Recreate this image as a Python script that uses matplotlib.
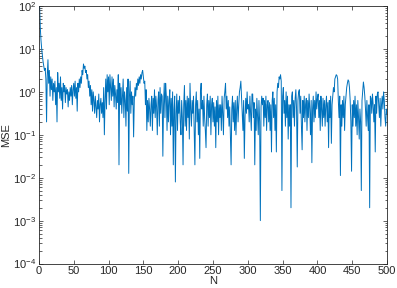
import matplotlib
matplotlib.use("Agg")
import matplotlib.pyplot as plt
import numpy as np

# log10(MSE), 10 points per row (N = 1..500)
mse_log = [
    2.0, 1.5, 1.2, 1.0, 0.85, 0.7, 0.6, 0.5, 0.55, 0.3,
    -0.7, 0.4, 0.75, 0.2, 0.5, -0.1, 0.35, 0.05, 0.3, -0.2,
    0.2, 0.0, 0.25, -0.3, 0.1, -0.7, 0.45, 0.0, 0.2, -0.15,
    0.35, -0.2, 0.1, -0.4, 0.2, 0.0, 0.15, -0.25, 0.1, -0.05,
    0.05, -0.35, 0.0, -0.2, 0.1, -0.1, 0.15, -0.3, 0.05, 0.2,
    -0.1, 0.25, -0.15, 0.1, -0.45, 0.2, 0.0, 0.3, 0.1, 0.35,
    0.2, 0.5, 0.4, 0.65, 0.55, 0.6, 0.45, 0.5, 0.3, 0.4,
    0.1, 0.25, -0.1, 0.15, -0.3, 0.05, -0.45, 0.0, -0.2, -0.5,
    -0.1, -0.35, -0.6, -0.2, -0.4, -0.05, -0.7, -0.3, -0.15, -0.5,
    -0.25, -0.6, 0.1, -1.0, -0.2, 0.3, -0.4, 0.4, 0.0, 0.35,
    -0.3, 0.4, 0.1, -0.2, 0.35, -0.1, 0.3, -0.35, 0.15, -0.05,
    -0.4, 0.05, -0.25, 0.4, -1.7, 0.2, -0.3, 0.1, -0.5, -0.1,
    0.3, -0.6, 0.0, -0.2, -0.8, 0.1, -0.45, 0.3, -1.9, -0.1,
    0.25, -0.5, 0.0, -0.3, -0.1, -1.05, -0.2, 0.1, -0.1, 0.2,
    0.05, 0.3, 0.15, 0.35, 0.2, 0.4, 0.3, 0.45, 0.5, 0.35,
    0.2, 0.25, -0.3, 0.05, -0.9, -0.2, -0.7, -0.15, -0.4, -0.8,
    -0.3, -0.1, -0.9, -0.15, -0.5, 0.05, -0.6, -0.1, -0.35, -1.0,
    -0.2, 0.0, -0.8, 0.1, -0.5, -0.05, -0.1, -1.5, -0.3, 0.2,
    -0.6, 0.2, -0.1, -0.9, -0.1, -0.7, -0.2, 0.05, -1.0, -0.15,
    -0.8, 0.0, -1.7, -0.4, -0.1, -2.1, -0.5, -0.05, -0.9, -0.2,
    -0.5, -0.1, -0.7, -1.0, -0.2, -0.6, -1.7, -0.3, 0.15, -0.8,
    -0.2, -0.9, -0.1, -0.6, -0.15, -1.1, 0.2, -0.4, -0.8, -0.2,
    -0.5, -0.1, -0.9, -1.7, -0.3, 0.0, -0.7, -0.2, -1.0, -0.4,
    -1.55, 0.0, 0.2, -0.4, -0.2, -0.8, -0.1, -0.6, -0.9, -1.3,
    -0.3, -0.05, -0.8, -0.2, -0.6, -0.1, -1.0, -0.3, -0.15, -0.7,
    -0.25, -0.8, -0.35, -1.3, -0.2, -0.7, -0.1, -1.0, -0.3, -0.6,
    -0.3, -0.9, -0.1, -0.5, -1.0, -0.15, 0.0, 0.2, -0.4, -0.1,
    -0.6, -0.2, -0.8, -0.35, -1.0, -1.7, -0.4, -0.1, -0.7, -0.25,
    -0.9, -0.2, -1.0, -0.4, -0.1, -0.7, -0.3, 0.0, 0.1, 0.25,
    -0.1, -0.5, -0.9, -0.2, -1.55, -0.6, -0.15, -0.5, 0.0, -0.4,
    -0.3, -0.7, -0.1, -0.5, -0.9, -0.05, -0.05, -0.6, -0.25, -1.7,
    -0.4, -0.9, -0.15, -0.6, -1.0, -0.2, -0.7, -3.0, -0.35, -0.1,
    -0.3, -0.15, -0.8, -0.2, -0.6, -0.1, -0.9, -0.3, -0.2, -0.7,
    -0.25, -0.9, -0.3, -1.4, -0.2, 0.0, -0.6, -0.15, -0.9, -0.3,
    -1.4, 0.0, 0.2, 0.1, 0.35, 0.3, 0.4, 0.25, -2.3, -0.1,
    0.1, -0.5, -0.2, -0.8, 0.0, -0.6, -0.1, -1.1, -0.3, -0.8,
    -0.3, -2.7, -0.1, 0.0, -0.6, -0.2, -0.8, -0.15, 0.05, -0.4,
    -1.75, -0.2, 0.0, 0.05, -0.5, -0.1, -0.8, -1.35, -0.2, -0.6,
    -0.1, -0.7, -0.3, -0.15, -0.9, -0.2, -0.6, -0.05, -0.4, -1.0,
    -0.2, -1.65, -0.4, -0.1, -0.7, -0.2, -0.6, 0.0, -0.4, -0.15,
    -0.05, -0.6, -0.2, -0.9, -0.1, -0.4, -0.8, -0.15, -0.6, -0.2,
    -0.8, -0.3, -0.1, -0.7, -0.25, -1.3, -0.2, -0.6, -0.1, -1.2,
    -0.3, -0.1, 0.1, 0.0, 0.3, 0.35, 0.4, 0.38, 0.3, -0.2,
    -0.6, -0.1, -1.95, -0.3, -0.8, -0.2, -0.6, -0.1, -0.9, -0.3,
    -0.1, 0.1, 0.2, 0.28, 0.25, 0.1, -0.2, -0.7, -1.85, -0.3,
    -0.8, -0.2, -0.6, -0.1, -0.8, -0.3, -1.0, -0.2, -0.6, -1.1,
    -0.4, -0.7, -2.3, -0.2, 0.0, 0.23, 0.1, -0.1, -0.4, -0.8,
    -0.2, -0.6, -0.9, -0.3, -2.7, -0.1, -0.15, -0.5, -0.05, -0.3,
    -0.7, -0.3, -1.4, -0.1, -0.5, -0.05, 0.0, -0.3, -0.6, -0.15,
    -0.8, -0.3, -0.1, -0.4, 0.0, -0.2, -0.6, -0.8, -0.4, -0.5,
]
n = np.arange(1, len(mse_log) + 1)
mse = 10.0 ** np.array(mse_log)

x_ticks = [0, 50, 100, 150, 200, 250, 300, 350, 400, 450, 500]

plt.rcParams["font.family"] = ["Liberation Sans", "DejaVu Sans"]
plt.rcParams["mathtext.default"] = "regular"

fig = plt.figure(figsize=(3.97, 2.88), dpi=100)
ax = fig.add_axes([0.098, 0.085, 0.877, 0.894])

ax.plot(n, mse, color="#0072BD", linewidth=0.7)
ax.set_yscale("log")
ax.set_xlim(0, 500)
ax.set_ylim(1e-4, 1e2)
ax.set_xticks(x_ticks)
ax.set_yticks([1e-4, 1e-3, 1e-2, 1e-1, 1e0, 1e1, 1e2])

ax.tick_params(which="both", direction="in", top=True, right=True,
               colors="#262626", labelsize=8, width=0.5)
ax.tick_params(which="major", length=3, pad=2)
ax.tick_params(which="minor", length=1.8)
for s in ax.spines.values():
    s.set_color("#262626")
    s.set_linewidth(0.6)

ax.set_xlabel("N", fontsize=8, color="#262626", labelpad=0)
ax.set_ylabel("MSE", fontsize=8, color="#262626", labelpad=1)

fig.savefig("out.png", dpi=100)
